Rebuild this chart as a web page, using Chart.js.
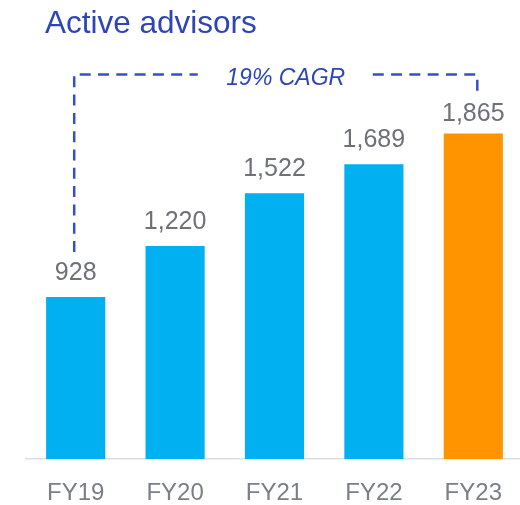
<!DOCTYPE html>
<html>
<head>
<meta charset="utf-8">
<script src="https://cdn.jsdelivr.net/npm/chart.js@4"></script>
<style>
  html, body { margin: 0; padding: 0; background: #fff; overflow: hidden; }
  #wrap { position: relative; width: 520px; height: 505px; overflow: hidden; }
  #title {
    position: absolute; left: 45px; top: 7px;
    font: 31.5px/31.5px "Liberation Sans", Arial, sans-serif;
    color: #2E45B8; white-space: nowrap;
  }
  canvas { position: absolute; left: 0; top: 0; }
</style>
</head>
<body>
<div id="wrap">
  <canvas id="chart" width="525" height="505"></canvas>
  <div id="title">Active advisors</div>
</div>
<script>
// data
const years = ["FY19", "FY20", "FY21", "FY22", "FY23"];
const advisors = [928, 1220, 1522, 1689, 1865];
const cagrLabel = "19% CAGR";

const blue = "#00B0F0";
const orange = "#FF9400";
const barColors = advisors.map((v, i) => i === advisors.length - 1 ? orange : blue);

// labels above bars
const valueLabels = {
    id: "valueLabels",
    afterDatasetsDraw(chart) {
        const ctx = chart.ctx;
        const bars = chart.getDatasetMeta(0).data;
        ctx.save();
        ctx.font = '25px "Liberation Sans", Arial, sans-serif';
        ctx.fillStyle = "#6E7178";
        ctx.textAlign = "center";
        ctx.textBaseline = "alphabetic";
        bars.forEach((bar, i) => {
            const gap = i === bars.length - 1 ? 12 : 17;
            ctx.fillText(advisors[i].toLocaleString("en-US"), bar.x, bar.y - gap);
        });
        ctx.restore();
    }
};

// dashed bracket with CAGR text
const cagrBracket = {
    id: "cagrBracket",
    afterDatasetsDraw(chart) {
        const ctx = chart.ctx;
        const bars = chart.getDatasetMeta(0).data;
        const first = bars[0], last = bars[bars.length - 1];
        const x0 = first.x - 1.5, x1 = last.x + 4;
        const yTop = chart.chartArea.top + 34.5;
        const textX = (x0 + x1) / 2 + 10;

        ctx.save();
        ctx.strokeStyle = "#3A4FC6";
        ctx.lineWidth = 2.5;
        ctx.setLineDash([11, 7.3]);
        ctx.beginPath();
        ctx.moveTo(x0, first.y - 45);
        ctx.lineTo(x0, yTop);
        ctx.lineTo(textX - 88, yTop);
        ctx.stroke();
        ctx.beginPath();
        ctx.moveTo(textX + 87, yTop);
        ctx.lineTo(x1, yTop);
        ctx.lineTo(x1, last.y - 41);
        ctx.stroke();

        ctx.setLineDash([]);
        ctx.font = 'italic 23px "Liberation Sans", Arial, sans-serif';
        ctx.fillStyle = "#2E45B8";
        ctx.textAlign = "center";
        ctx.textBaseline = "alphabetic";
        ctx.fillText(cagrLabel, textX, yTop + 10.5);
        ctx.restore();
    }
};

const ctx = document.getElementById("chart").getContext("2d");
const chart = new Chart(ctx, {
    type: "bar",
    data: {
        labels: years,
        datasets: [{
            data: advisors,
            backgroundColor: barColors,
            borderWidth: 0,
            categoryPercentage: 1,
            barPercentage: 0.595
        }]
    },
    options: {
        responsive: false,
        animation: false,
        layout: { padding: { top: 40, left: 26, right: 2, bottom: 0 } },
        plugins: {
            legend: { display: false },
            tooltip: { enabled: false }
        },
        scales: {
            x: {
                grid: { display: false, drawTicks: false },
                border: { display: true, color: "#DCDEE2", width: 1.5 },
                ticks: {
                    padding: 20,
                    color: "#7A7F88",
                    font: { family: '"Liberation Sans", Arial, sans-serif', size: 24 }
                },
                afterFit(scale) { scale.height = 46; }
            },
            y: {
                display: false,
                min: 0,
                max: 2400
            }
        }
    },
    plugins: [valueLabels, cagrBracket]
});
</script>
</body>
</html>
